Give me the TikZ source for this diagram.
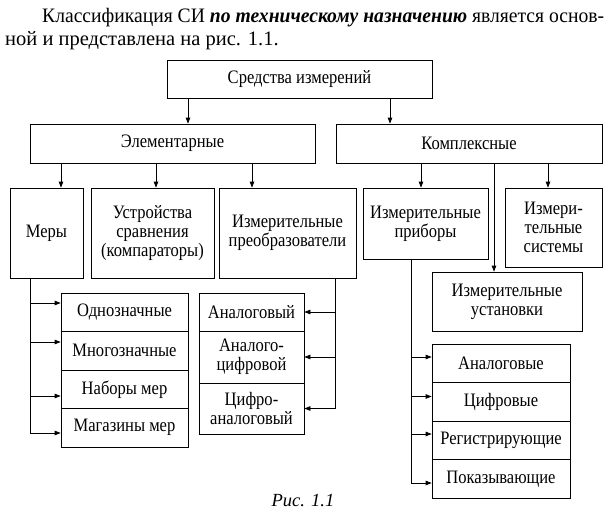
\documentclass[tikz,border=0pt]{standalone}
\usepackage{fontspec}
\setmainfont{Liberation Serif}
\newfontfamily\boxfont[FakeStretch=0.87]{Liberation Serif}
\usetikzlibrary{arrows.meta}
\newcommand{\bx}{\boxfont\fontsize{19}{19}\selectfont}
\newcommand{\txt}{\fontsize{20.5}{23}\selectfont}

\begin{document}
\begin{tikzpicture}[x=1pt,y=-1pt,
   blk/.style={draw, line width=0.7pt, align=center, inner sep=0pt, font=\bx},
   arr/.style={line width=0.7pt, -{Triangle[length=6pt,width=4.5pt]}},
   ln/.style={line width=0.7pt}]
   \useasboundingbox (0,0) rectangle (612,509);
   % text above the scheme
   \node[anchor=base west, inner sep=0pt, font=\txt] (par1) at (42,22)
      {\resizebox{562pt}{\height}{Классификация СИ \textbf{\textit{по техническому назначению}} является основ-}};
   \node[anchor=base west, inner sep=0pt, font=\txt] (par2) at (5,45)
      {ной и представлена на рис. 1.1.};
   % upper levels
   \node[blk, minimum width=265pt, minimum height=38pt] (si)    at (299.5,79)  {Средства измерений};
   \node[blk, minimum width=285pt, minimum height=39pt] (elem)  at (172.5,143.5) {Элементарные};
   \node[blk, minimum width=266pt, minimum height=39pt] (kompl) at (469,143.5)   {Комплексные};
   \draw[arr] (si.south -| 188,0) -- (elem.north -| 188,0);
   \draw[arr] (si.south -| 390,0) -- (kompl.north -| 390,0);
   % elementary
   \node[blk, minimum width=73pt,  minimum height=90pt] (mery)  at (46.5,233)  {Меры};
   \node[blk, minimum width=123pt, minimum height=90pt] (ustr)  at (152.5,233) {Устройства\\сравнения\\(компараторы)};
   \node[blk, minimum width=137pt, minimum height=90pt] (preob) at (287.5,233) {Измерительные\\преобразователи};
   \draw[arr] (elem.south -| 61,0)  -- (mery.north -| 61,0);
   \draw[arr] (elem.south -| 156,0) -- (ustr.north -| 156,0);
   \draw[arr] (elem.south -| 252,0) -- (preob.north -| 252,0);
   % complex
   \node[blk, minimum width=125pt, minimum height=71pt] (prib)  at (425.5,223.5) {Измерительные\\приборы};
   \node[blk, minimum width=97pt,  minimum height=79pt] (sist)  at (553.5,227.5) {Измери-\\тельные\\системы};
   \node[blk, minimum width=150pt, minimum height=59pt] (ustan) at (507,301.5)   {Измерительные\\установки};
   \draw[arr] (kompl.south -| 421,0) -- (prib.north -| 421,0);
   \draw[arr] (kompl.south -| 548,0) -- (sist.north -| 548,0);
   \draw[arr] (kompl.south -| 494,0) -- (ustan.north -| 494,0);
   % kinds of measures
   \node[blk, minimum width=127pt, minimum height=38.5pt] (m1) at (124.5,312.25) {Однозначные};
   \node[blk, minimum width=127pt, minimum height=38.5pt] (m2) at (124.5,350.75) {Многозначные};
   \node[blk, minimum width=127pt, minimum height=38.5pt] (m3) at (124.5,389.25) {Наборы мер};
   \node[blk, minimum width=127pt, minimum height=38.5pt] (m4) at (124.5,427.75) {Магазины мер};
   \coordinate (mt) at (mery.south -| 30,0);
   \coordinate (m1a) at ([yshift=9.25pt]m1.west);
   \coordinate (m2a) at ([yshift=8.75pt]m2.west);
   \coordinate (m3a) at ([yshift=-6.75pt]m3.west);
   \draw[arr] (mt) |- ([yshift=-5.25pt]m4.west);
   \draw[arr] (mt |- m1a) -- (m1a);
   \draw[arr] (mt |- m2a) -- (m2a);
   \draw[arr] (mt |- m3a) -- (m3a);
   % kinds of transducers
   \node[blk, minimum width=105pt, minimum height=38pt] (p1) at (251.5,312)   {Аналоговый};
   \node[blk, minimum width=105pt, minimum height=52pt] (p2) at (251.5,357)   {Аналого-\\цифровой};
   \node[blk, minimum width=105pt, minimum height=51pt] (p3) at (251.5,408.5) {Цифро-\\аналоговый};
   \coordinate (pt) at (preob.south -| 335,0);
   \draw[arr] (pt) |- (p3.east);
   \draw[arr] (pt |- p1.east) -- (p1.east);
   \draw[arr] (pt |- p2.east) -- (p2.east);
   % kinds of instruments
   \node[blk, minimum width=138pt, minimum height=38.5pt] (r1) at (501,363.25) {Аналоговые};
   \node[blk, minimum width=138pt, minimum height=38.5pt] (r2) at (501,401.75) {Цифровые};
   \node[blk, minimum width=138pt, minimum height=38.5pt] (r3) at (501,440.25) {Регистрирующие};
   \node[blk, minimum width=138pt, minimum height=38.5pt] (r4) at (501,478.75) {Показывающие};
   \coordinate (rt) at (prib.south -| 411,0);
   \coordinate (r1a) at ([yshift=6.25pt]r1.west);
   \coordinate (r2a) at ([yshift=5.25pt]r2.west);
   \coordinate (r3a) at ([yshift=6.25pt]r3.west);
   \draw[arr] (rt) |- ([yshift=-4.25pt]r4.west);
   \draw[arr] (rt |- r1a) -- (r1a);
   \draw[arr] (rt |- r2a) -- (r2a);
   \draw[arr] (rt |- r3a) -- (r3a);
   % caption
   \node[anchor=base, inner sep=0pt, font=\itshape\fontsize{18.5}{20}\selectfont] (cap) at (303,506) {Рис. 1.1};
\end{tikzpicture}
\end{document}
